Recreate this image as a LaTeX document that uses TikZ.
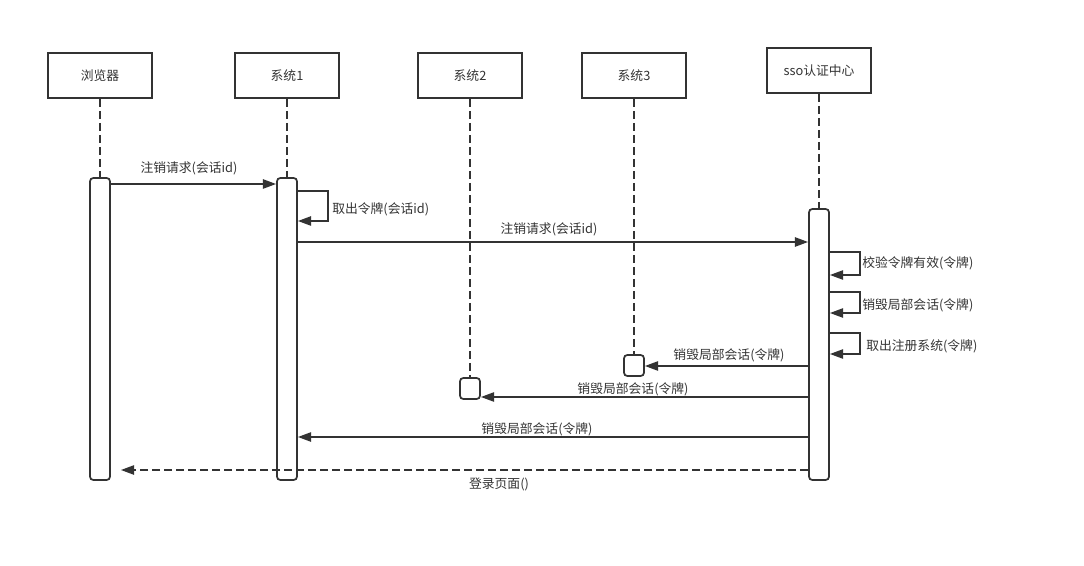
\documentclass[tikz,border=0pt]{standalone}
\usepackage{fontspec}
\setmainfont{Noto Sans CJK SC}
\usepackage{tikz}
\usetikzlibrary{arrows.meta,positioning}
\definecolor{ink}{HTML}{333333}

\begin{document}
\begin{tikzpicture}[x=0.75pt,y=0.75pt,yscale=-1,xscale=1,
        every node/.style={font=\fontsize{9.6}{11}\selectfont, text=ink},
        head/.style={draw=ink, line width=1.3pt, minimum width=78pt, minimum height=33.75pt, inner sep=0pt},
        actbar/.style={draw=ink, line width=1.3pt, fill=white, rounded corners=2.5pt, minimum width=15pt, inner sep=0pt},
        life/.style={draw=ink, line width=1.3pt, dash pattern=on 6pt off 3pt},
        msg/.style={draw=ink, line width=1.3pt, -{Triangle[length=10pt,width=7pt]}},
        reply/.style={msg, dash pattern=on 6pt off 3pt},
        lbl/.style={inner sep=0.75pt}]
        \useasboundingbox (0,0) rectangle (1084,566);
        % Heads
        \node[head] (browser) at (100,75.5) {浏览器};
        \node[head] (sysA) at (287,75.5) {系统1};
        \node[head] (sysB) at (470,75.5) {系统2};
        \node[head] (sysC) at (634,75.5) {系统3};
        \node[head] (sso) at (819,70.5) {sso认证中心};
        % Activation bars
        \node[actbar, minimum height=226.5pt] (browserAct) at (100,329) {};
        \node[actbar, minimum height=226.5pt] (sysAAct) at (287,329) {};
        \node[actbar, minimum height=15.75pt] (sysBAct) at (470,388.5) {};
        \node[actbar, minimum height=15.75pt] (sysCAct) at (634,365.5) {};
        \node[actbar, minimum height=203.25pt] (ssoAct) at (819,344.5) {};
        % Lifelines
        \foreach \a/\b in {browser/browserAct,sysA/sysAAct,sysB/sysBAct,sysC/sysCAct,sso/ssoAct}
            \draw[life] (\a.south) -- (\b.north);
        % Message rows
        \coordinate (r1) at (0,184);
        \coordinate (r2) at (0,191);
        \coordinate (r3) at (0,242);
        \coordinate (r4) at (0,252);
        \coordinate (r5) at (0,292);
        \coordinate (r6) at (0,333);
        \coordinate (r7) at (0,366);
        \coordinate (r8) at (0,397);
        \coordinate (r9) at (0,437);
        \coordinate (r10) at (0,470);
        % Messages
        \draw[msg] (browserAct.east |- r1) -- (sysAAct.west |- r1);
        \draw[msg] (sysAAct.east |- r2) -- ++(30,0) -- ++(0,30) -- ++(-30,0);
        \draw[msg] (sysAAct.east |- r3) -- (ssoAct.west |- r3);
        \draw[msg] (ssoAct.east |- r4) -- ++(30,0) -- ++(0,23) -- ++(-30,0);
        \draw[msg] (ssoAct.east |- r5) -- ++(30,0) -- ++(0,21) -- ++(-30,0);
        \draw[msg] (ssoAct.east |- r6) -- ++(30,0) -- ++(0,21) -- ++(-30,0);
        \draw[msg] (ssoAct.west |- r7) -- (sysCAct.east |- r7);
        \draw[msg] (ssoAct.west |- r8) -- (sysBAct.east |- r8);
        \draw[msg] (ssoAct.west |- r9) -- (sysAAct.east |- r9);
        \draw[reply] (ssoAct.west |- r10) -- ([xshift=7.5pt]browserAct.east |- r10);
        % Labels
        \node[lbl] (l1) at (189,168) {注销请求(会话id)};
        \node[lbl, anchor=west] (l2) at (331,209) {取出令牌(会话id)};
        \node[lbl] (l3) at (549,229) {注销请求(会话id)};
        \node[lbl, anchor=west] (l4) at (861,263) {校验令牌有效(令牌)};
        \node[lbl, anchor=west] (l5) at (861,305) {销毁局部会话(令牌)};
        \node[lbl, anchor=west] (l6) at (865,346) {取出注册系统(令牌)};
        \node[lbl] (l7) at (729,355) {销毁局部会话(令牌)};
        \node[lbl] (l8) at (633,389) {销毁局部会话(令牌)};
        \node[lbl] (l9) at (537,429) {销毁局部会话(令牌)};
        \node[lbl] (l10) at (499,484) {登录页面()};
\end{tikzpicture}
\end{document}
